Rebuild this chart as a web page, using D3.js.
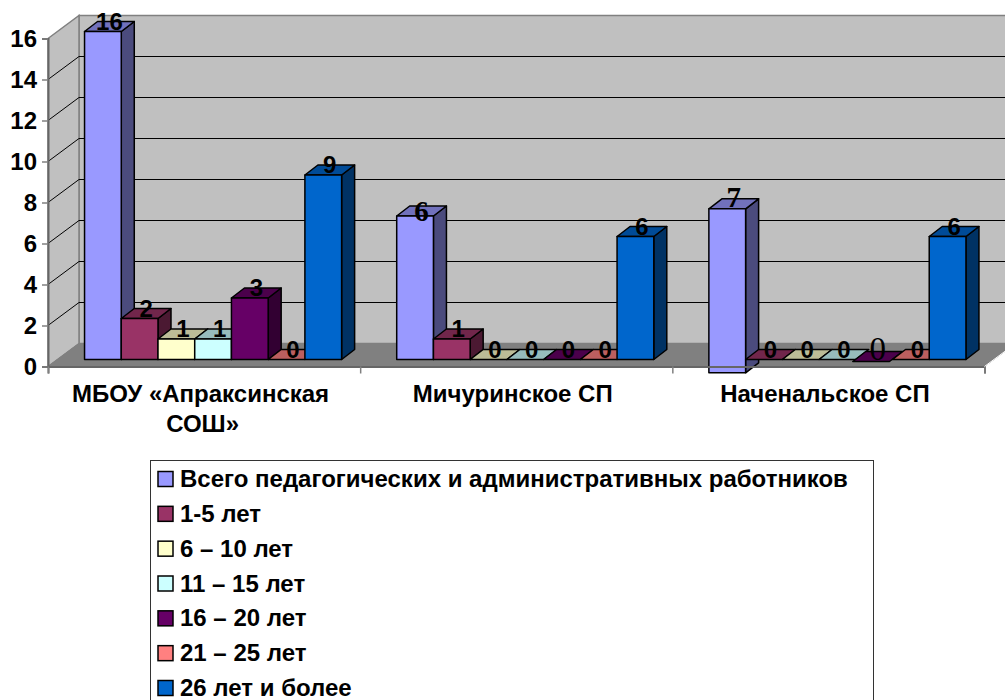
<!DOCTYPE html>
<html>
<head>
<meta charset="utf-8">
<script src="https://d3js.org/d3.v7.min.js"></script>
<style>
    html, body { margin: 0; padding: 0; background: #fff; overflow: hidden; }
    text { font-family: "Liberation Sans", Arial, sans-serif; font-weight: bold; fill: #000; }
</style>
</head>
<body>
<div id="grafica"></div>
<script>
// datos
const categorias = ['МБОУ «Апраксинская СОШ»', 'Мичуринское СП', 'Наченальское СП'];
const series = ['Всего педагогических и административных работников', '1-5 лет', '6 – 10 лет', '11 – 15 лет', '16 – 20 лет', '21 – 25 лет', '26 лет и более'];
const colores = ['#9999FF', '#993366', '#FFFFCC', '#CCFFFF', '#660066', '#FF8080', '#0066CC'];
const ticksY = [0, 2, 4, 6, 8, 10, 12, 14, 16];

// altura de cada barra por serie (una por categoria)
const total = [16, 7, 7.35];
const anios1_5 = [2, 1, 0];
const anios6_10 = [1, 0, 0];
const anios11_15 = [1, 0, 0];
const anios16_20 = [3, 0, 0];
const anios21_25 = [0, 0, 0];
const anios26 = [9, 6, 6];
const valores = [total, anios1_5, anios6_10, anios11_15, anios16_20, anios21_25, anios26];

// etiquetas escritas a mano en el original, no coinciden siempre con la barra
const etiquetasTotal = [16, 6, 7];
// base de la barra "total" (la de Наченальское СП baja de la linea)
const baseTotal = [0, 0, -0.65];

const width = 1005, height = 700;
const x0 = 48, x1 = 984.5, yBase = 366.5, yTop = 38.5;
const prof = { x: 31, y: -23 };        // profundidad de las paredes
const profBarra = { x: 13, y: -10 };   // profundidad de cada barra
const despl = { x: 9, y: -7 };         // de la linea frontal al frente de la barra

const x = d3.scaleBand().domain(categorias).range([x0, x1]);
const xSerie = d3.scaleBand().domain(series)
    .range([0, x.bandwidth()]).paddingOuter(0.75).paddingInner(0);
const y = d3.scaleLinear().domain([0, 16]).range([yBase, yTop]);

const svg = d3.select('#grafica').append('svg')
    .attr('width', width).attr('height', height)
    .style('display', 'block');

const puntos = p => p.map(d => d.join(',')).join(' ');

// paredes y piso
svg.append('polygon')
    .attr('points', puntos([[x0 + prof.x, yTop + prof.y], [x1 + prof.x, yTop + prof.y], [x1 + prof.x, yBase + prof.y], [x0 + prof.x, yBase + prof.y]]))
    .attr('fill', '#C0C0C0').attr('stroke', '#808080').attr('stroke-width', 1.5);
svg.append('polygon')
    .attr('points', puntos([[x0, yTop], [x0 + prof.x, yTop + prof.y], [x0 + prof.x, yBase + prof.y], [x0, yBase]]))
    .attr('fill', '#C0C0C0').attr('stroke', '#808080').attr('stroke-width', 1.5);
svg.append('polygon')
    .attr('points', puntos([[x0, yBase], [x0 + prof.x, yBase + prof.y], [x1 + prof.x, yBase + prof.y], [x1, yBase]]))
    .attr('fill', '#808080').attr('stroke', '#808080').attr('stroke-width', 1);

// lineas de division
const grid = svg.append('g').attr('fill', 'none').attr('stroke', '#000').attr('stroke-width', 1);
ticksY.slice(1, -1).forEach(t => {
    grid.append('polyline')
        .attr('points', puntos([[x0, y(t)], [x0 + prof.x, y(t) + prof.y], [x1 + prof.x, y(t) + prof.y]]));
});

// barras
function barra(g, xb, yb, yt, ancho, color) {
    const c = d3.color(color);
    const lados = [
        { p: [[xb + ancho, yb], [xb + ancho + profBarra.x, yb + profBarra.y], [xb + ancho + profBarra.x, yt + profBarra.y], [xb + ancho, yt]], f: c.darker(2) },
        { p: [[xb, yt], [xb + profBarra.x, yt + profBarra.y], [xb + ancho + profBarra.x, yt + profBarra.y], [xb + ancho, yt]], f: c.darker(0.85) },
        { p: [[xb, yb], [xb, yt], [xb + ancho, yt], [xb + ancho, yb]], f: c }
    ];
    lados.forEach(l => {
        if (yb === yt && l.f === c) return; // barra en cero: solo la cara de arriba
        if (yb === yt && l.p[0][1] === yb && l.p[3][1] === yt && l.p[0][0] === xb + ancho) return;
        g.append('polygon').attr('points', puntos(l.p))
            .attr('fill', l.f.toString())
            .attr('stroke', '#000').attr('stroke-width', 1.5)
            .attr('stroke-linejoin', 'round');
    });
}

const barras = svg.append('g');
const etiquetas = [];
const ancho = xSerie.bandwidth();

categorias.forEach((cat, i) => {
    series.forEach((s, j) => {
        // el 0 de "16 – 20" en Наченальское СП esta movido a mano
        const movido = i === 2 && j === 4;
        const xb = x(cat) + xSerie(s) + despl.x + (movido ? -3 : 0);
        const dy = movido ? 2 : 0;
        const base = j === 0 ? baseTotal[i] : 0;
        const yb = y(base) + despl.y + dy;
        const yt = y(valores[j][i]) + despl.y + dy;
        barra(barras, xb, yb, yt, ancho, colores[j]);
        // los textos editados a mano no quedan a la misma altura
        let ajuste = -5.5;
        if (j === 0 && i === 1) ajuste = 0;
        if (j === 0 && i === 2) ajuste = -7;
        if (movido) ajuste = -8;
        etiquetas.push({
            x: xb + ancho / 2 + profBarra.x / 2,
            y: yt + profBarra.y / 2 + ajuste,
            texto: j === 0 ? etiquetasTotal[i] : valores[j][i],
            serif: (j === 0 && i > 0) || movido,
            grande: movido
        });
    });
});

// ejes
const ejeY = d3.axisLeft(y).tickValues(ticksY).tickSize(6).tickPadding(5);
const gY = svg.append('g').attr('transform', `translate(${x0},0)`).call(ejeY);
gY.selectAll('line').attr('stroke', '#808080').attr('stroke-width', 1.5);
gY.select('.domain').attr('stroke', '#666').attr('stroke-width', 2);
gY.selectAll('text').style('font-size', '24px').style('font-family', '"Liberation Sans"').style('font-weight', 'bold');

const ejeX = d3.axisBottom(d3.scaleLinear().domain([0, 3]).range([x0, x1])).tickValues([0, 1, 2, 3]).tickSize(7).tickFormat('');
const gX = svg.append('g').attr('transform', `translate(0,${yBase})`).call(ejeX);
gX.selectAll('line').attr('stroke', '#808080').attr('stroke-width', 1.5);
gX.select('.domain').attr('stroke', '#666').attr('stroke-width', 2);
svg.append('line')
    .attr('x1', x1).attr('y1', yBase).attr('x2', x1 + prof.x).attr('y2', yBase + prof.y)
    .attr('stroke', '#fff').attr('stroke-width', 1);

// etiquetas de valores
svg.append('g').selectAll('text').data(etiquetas).enter().append('text')
    .attr('x', d => d.x)
    .attr('y', d => d.y)
    .attr('text-anchor', 'middle')
    .attr('dominant-baseline', 'central')
    .style('font-family', d => d.serif ? '"Liberation Serif"' : '"Liberation Sans"')
    .style('font-size', d => d.grande ? '33px' : (d.serif ? '29px' : '24px'))
    .style('font-weight', d => d.grande ? 'normal' : 'bold')
    .text(d => d.texto);

// nombres de categorias, corte de linea a mano
const lineasCat = ['МБОУ «Апраксинская', 'СОШ»'];
categorias.forEach((cat, i) => {
    const lineas = i === 0 ? lineasCat : [cat];
    lineas.forEach((l, k) => {
        svg.append('text')
            .attr('x', x(cat) + x.bandwidth() / 2 - 3.5 + (k === 1 ? 2 : 0))
            .attr('y', 402 + k * 30)
            .attr('text-anchor', 'middle')
            .style('font-size', '24px')
            .text(l);
    });
});

// leyenda
svg.append('rect')
    .attr('x', 150.5).attr('y', 460.5).attr('width', 723).attr('height', 260)
    .attr('fill', '#fff').attr('stroke', '#333').attr('stroke-width', 1);

const yLeyenda = d3.scalePoint().domain(series).range([479, 688]);
const filas = svg.append('g').selectAll('g').data(series).enter().append('g')
    .attr('transform', d => `translate(0,${yLeyenda(d)})`);
filas.append('rect')
    .attr('x', 158).attr('y', -7.5).attr('width', 15).attr('height', 15)
    .attr('fill', (d, i) => colores[i])
    .attr('stroke', '#000').attr('stroke-width', 1.5);
filas.append('text')
    .attr('x', 180).attr('y', 8)
    .style('font-size', '24px')
    .text(d => d);
</script>
</body>
</html>
